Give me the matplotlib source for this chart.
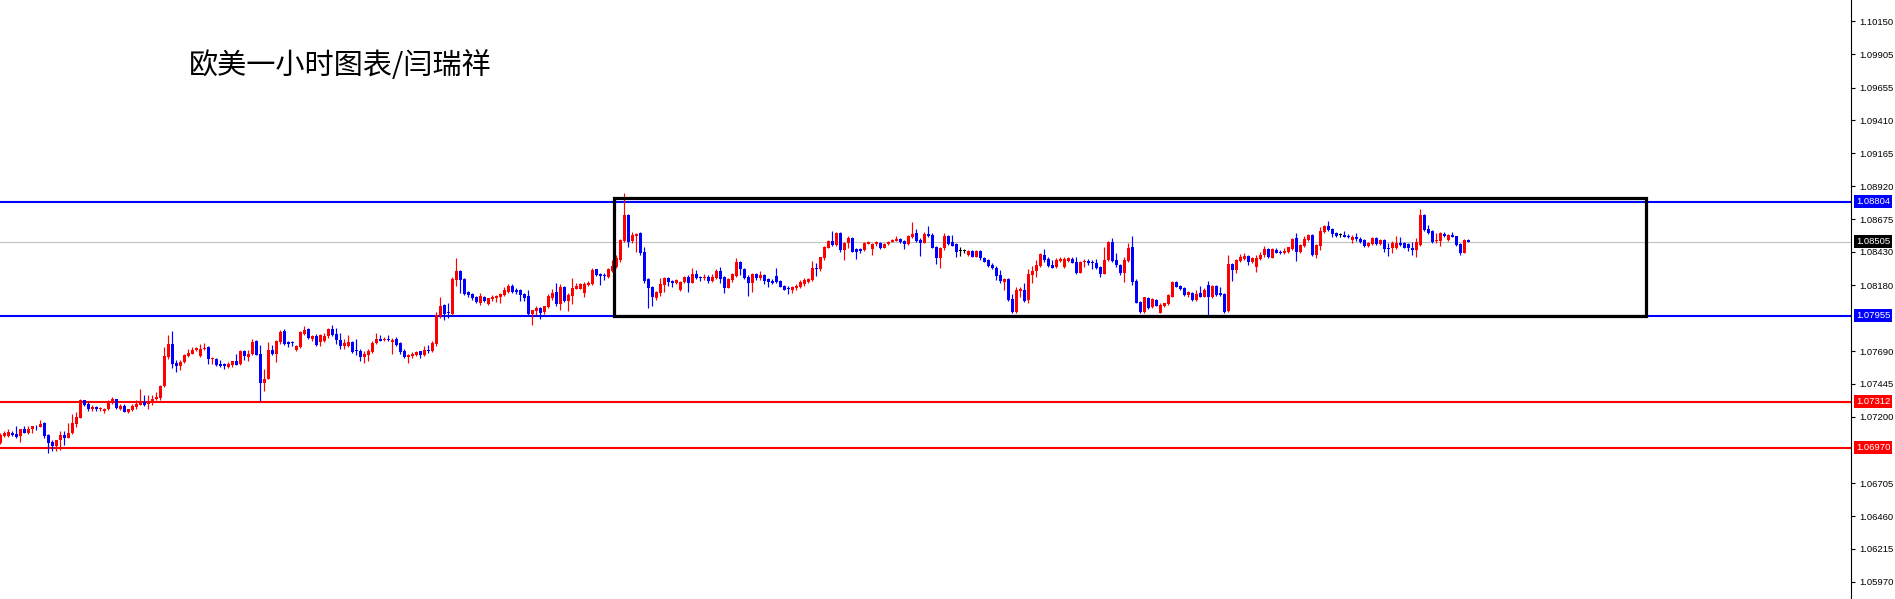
import matplotlib
matplotlib.use("Agg")
import matplotlib.pyplot as plt
from matplotlib.patches import Rectangle
import numpy as np

plt.rcParams["font.family"] = ["Noto Sans CJK SC", "DejaVu Sans"]

TITLE = "欧美一小时图表/闫瑞祥"

# EURUSD H1 candles, prices in points (1 point = 0.00001)
opens = [
    107002, 107056, 107059, 107083, 107071, 107059, 107106, 107081, 107108, 107131,
    107126, 107155, 107064, 107014, 106982, 107026, 107064, 107044, 107076, 107150,
    107195, 107324, 107294, 107255, 107274, 107255, 107242, 107255, 107312, 107331,
    107262, 107279, 107237, 107250, 107274, 107292, 107309, 107294, 107312, 107331,
    107344, 107428, 107646, 107746, 107602, 107582, 107609, 107654, 107671, 107696,
    107654, 107703, 107721, 107629, 107634, 107592, 107592, 107572, 107589, 107614,
    107592, 107691, 107646, 107666, 107763, 107666, 107453, 107485, 107696, 107671,
    107758, 107837, 107758, 107751, 107696, 107721, 107820, 107857, 107783, 107800,
    107755, 107763, 107805, 107855, 107820, 107775, 107730, 107730, 107758, 107693,
    107693, 107650, 107658, 107683, 107750, 107783, 107775, 107783, 107755, 107783,
    107750, 107693, 107643, 107655, 107663, 107688, 107663, 107700, 107688, 107745,
    107955, 108033, 107975, 107970, 108220, 108288, 108230, 108130, 108113, 108095,
    108050, 108095, 108038, 108080, 108088, 108095, 108105, 108133, 108175, 108145,
    108145, 108113, 108100, 107970, 107988, 108013, 107980, 108020, 108088, 108130,
    108038, 108168, 108063, 108100, 108155, 108155, 108120, 108180, 108188, 108300,
    108263, 108255, 108245, 108290, 108320, 108370, 108511, 108705, 108511, 108551,
    108568, 108432, 108228, 108171, 108085, 108122, 108184, 108233, 108214, 108201,
    108147, 108204, 108241, 108201, 108265, 108246, 108236, 108246, 108214, 108233,
    108290, 108246, 108164, 108221, 108253, 108357, 108303, 108246, 108196, 108266,
    108233, 108258, 108226, 108216, 108251, 108216, 108176, 108154, 108147, 108159,
    108171, 108189, 108209, 108221, 108308, 108300, 108382, 108462, 108511, 108481,
    108568, 108444, 108494, 108531, 108449, 108449, 108444, 108489, 108452, 108486,
    108499, 108462, 108486, 108506, 108514, 108526, 108514, 108489, 108538, 108568,
    108519, 108499, 108563, 108556, 108469, 108387, 108457, 108551, 108501, 108486,
    108439, 108437, 108407, 108437, 108395, 108437, 108382, 108370, 108333, 108313,
    108258, 108204, 108228, 108080, 107980, 108142, 108147, 108072, 108258, 108288,
    108328, 108407, 108377, 108333, 108315, 108365, 108315, 108362, 108377, 108357,
    108276, 108352, 108365, 108357, 108350, 108315, 108266, 108370, 108501, 108370,
    108333, 108276, 108365, 108469, 108216, 108060, 107980, 108085, 108018, 108072,
    107978, 108028, 108042, 108097, 108209, 108176, 108159, 108109, 108122, 108072,
    108122, 108092, 108184, 108092, 108176, 108127, 108117, 107990, 108340, 108295,
    108365, 108377, 108400, 108357, 108320, 108377, 108407, 108452, 108387, 108444,
    108432, 108424, 108427, 108452, 108536, 108432, 108476, 108519, 108556, 108407,
    108476, 108581, 108623, 108598, 108568, 108556, 108556, 108551, 108519, 108543,
    108529, 108519, 108476, 108486, 108536, 108486, 108519, 108462, 108457, 108457,
    108499, 108494, 108489, 108462, 108444, 108481, 108705, 108600, 108588, 108514,
    108514, 108563, 108519, 108556, 108548, 108489, 108424, 108519,
]
highs = [
    107076, 107093, 107106, 107093, 107131, 107113, 107131, 107131, 107134, 107138,
    107175, 107163, 107071, 107026, 107031, 107093, 107096, 107155, 107220, 107237,
    107331, 107329, 107312, 107287, 107279, 107274, 107267, 107324, 107349, 107336,
    107299, 107294, 107262, 107299, 107324, 107406, 107361, 107361, 107361, 107386,
    107436, 107721, 107813, 107837, 107622, 107622, 107666, 107708, 107721, 107721,
    107746, 107753, 107728, 107646, 107639, 107622, 107604, 107607, 107616, 107671,
    107701, 107701, 107696, 107783, 107770, 107738, 107555, 107756, 107733, 107770,
    107845, 107857, 107763, 107768, 107733, 107840, 107875, 107865, 107813, 107820,
    107818, 107825, 107863, 107888, 107863, 107825, 107780, 107810, 107763, 107783,
    107705, 107688, 107705, 107763, 107825, 107808, 107793, 107813, 107788, 107793,
    107755, 107705, 107670, 107680, 107688, 107693, 107725, 107738, 107768, 107983,
    108095, 108043, 108050, 108243, 108383, 108295, 108238, 108138, 108125, 108100,
    108120, 108100, 108088, 108105, 108108, 108125, 108168, 108188, 108188, 108158,
    108155, 108120, 108145, 108000, 108030, 108020, 108030, 108113, 108155, 108195,
    108188, 108175, 108125, 108238, 108200, 108200, 108205, 108213, 108313, 108305,
    108270, 108275, 108308, 108370, 108407, 108524, 108871, 108710, 108581, 108568,
    108581, 108469, 108238, 108176, 108139, 108238, 108241, 108241, 108221, 108228,
    108214, 108251, 108258, 108308, 108295, 108253, 108263, 108258, 108266, 108300,
    108315, 108251, 108233, 108271, 108382, 108362, 108308, 108258, 108276, 108276,
    108290, 108266, 108233, 108226, 108308, 108221, 108185, 108176, 108176, 108191,
    108221, 108233, 108238, 108362, 108345, 108395, 108474, 108519, 108586, 108581,
    108576, 108506, 108548, 108538, 108457, 108462, 108501, 108511, 108494, 108514,
    108506, 108499, 108514, 108526, 108548, 108536, 108519, 108556, 108650, 108600,
    108531, 108576, 108623, 108573, 108476, 108469, 108568, 108556, 108556, 108494,
    108464, 108452, 108444, 108444, 108444, 108444, 108390, 108375, 108345, 108325,
    108295, 108233, 108233, 108117, 108166, 108166, 108196, 108300, 108325, 108370,
    108419, 108452, 108395, 108370, 108382, 108390, 108390, 108395, 108395, 108390,
    108365, 108375, 108375, 108370, 108375, 108325, 108469, 108511, 108536, 108424,
    108340, 108395, 108499, 108548, 108226, 108067, 108097, 108092, 108085, 108080,
    108052, 108052, 108117, 108216, 108214, 108184, 108166, 108142, 108129, 108147,
    108176, 108159, 108216, 108184, 108184, 108166, 108122, 108407, 108350, 108377,
    108414, 108419, 108407, 108390, 108407, 108432, 108474, 108457, 108457, 108457,
    108444, 108457, 108469, 108531, 108573, 108489, 108548, 108561, 108563, 108489,
    108618, 108630, 108660, 108605, 108581, 108573, 108588, 108563, 108556, 108568,
    108538, 108524, 108506, 108543, 108538, 108526, 108526, 108494, 108511, 108548,
    108543, 108506, 108499, 108506, 108536, 108749, 108712, 108630, 108593, 108568,
    108576, 108576, 108563, 108581, 108551, 108499, 108524, 108524,
]
lows = [
    106997, 107051, 107051, 107056, 107044, 107014, 107076, 107071, 107076, 107101,
    107121, 107039, 106932, 106947, 106947, 106952, 106989, 107040, 107071, 107126,
    107188, 107279, 107245, 107245, 107245, 107242, 107230, 107250, 107299, 107262,
    107250, 107235, 107230, 107242, 107262, 107287, 107284, 107257, 107292, 107324,
    107324, 107423, 107634, 107567, 107535, 107552, 107602, 107646, 107666, 107691,
    107646, 107696, 107597, 107592, 107579, 107572, 107560, 107567, 107572, 107584,
    107584, 107622, 107614, 107659, 107659, 107319, 107393, 107480, 107659, 107609,
    107746, 107733, 107721, 107728, 107691, 107716, 107813, 107783, 107765, 107728,
    107730, 107755, 107788, 107800, 107745, 107708, 107705, 107720, 107675, 107663,
    107618, 107605, 107613, 107675, 107743, 107763, 107763, 107763, 107670, 107730,
    107670, 107638, 107605, 107638, 107655, 107638, 107655, 107675, 107680, 107725,
    107938, 107925, 107938, 107963, 108175, 108120, 108108, 108095, 108075, 108050,
    108033, 108055, 108033, 108063, 108055, 108050, 108100, 108125, 108120, 108113,
    108063, 108063, 107963, 107888, 107963, 107930, 107970, 108013, 108075, 108030,
    107995, 108055, 107988, 108038, 108150, 108150, 108095, 108175, 108180, 108250,
    108183, 108220, 108238, 108283, 108308, 108357, 108506, 108469, 108494, 108432,
    108407, 108196, 108015, 108023, 108072, 108102, 108134, 108176, 108171, 108191,
    108142, 108196, 108134, 108196, 108226, 108214, 108221, 108201, 108209, 108228,
    108201, 108127, 108159, 108209, 108246, 108258, 108226, 108104, 108134, 108221,
    108221, 108191, 108166, 108189, 108196, 108166, 108144, 108114, 108127, 108147,
    108164, 108176, 108201, 108216, 108253, 108290, 108370, 108457, 108474, 108476,
    108432, 108370, 108457, 108427, 108377, 108424, 108439, 108486, 108407, 108476,
    108452, 108457, 108481, 108501, 108511, 108494, 108452, 108481, 108531, 108506,
    108400, 108494, 108543, 108457, 108340, 108313, 108444, 108481, 108474, 108395,
    108400, 108424, 108400, 108390, 108390, 108370, 108352, 108315, 108300, 108221,
    108196, 108147, 108067, 107973, 107973, 108092, 108055, 108052, 108201, 108246,
    108320, 108357, 108315, 108308, 108308, 108352, 108308, 108357, 108345, 108266,
    108271, 108315, 108333, 108300, 108300, 108246, 108263, 108362, 108357, 108320,
    108258, 108209, 108357, 108184, 108047, 107973, 107973, 108005, 108010, 108023,
    107973, 108018, 108035, 108092, 108166, 108147, 108104, 108097, 108067, 108067,
    108092, 108092, 107961, 108085, 108102, 108104, 107973, 107985, 108216, 108276,
    108357, 108370, 108333, 108350, 108283, 108370, 108395, 108382, 108382, 108419,
    108414, 108414, 108419, 108444, 108365, 108419, 108469, 108511, 108400, 108387,
    108444, 108573, 108586, 108538, 108538, 108538, 108538, 108536, 108499, 108514,
    108494, 108469, 108469, 108481, 108481, 108481, 108432, 108400, 108419, 108452,
    108476, 108457, 108439, 108407, 108395, 108476, 108588, 108563, 108499, 108499,
    108476, 108538, 108514, 108538, 108476, 108407, 108419, 108500,
]
closes = [
    107064, 107076, 107088, 107064, 107051, 107106, 107081, 107113, 107131, 107129,
    107145, 107056, 107007, 106982, 107026, 107064, 107044, 107081, 107155, 107200,
    107324, 107292, 107255, 107274, 107255, 107269, 107260, 107312, 107331, 107269,
    107279, 107237, 107255, 107279, 107299, 107319, 107292, 107319, 107331, 107349,
    107431, 107651, 107746, 107597, 107577, 107612, 107659, 107676, 107701, 107716,
    107708, 107711, 107629, 107641, 107584, 107582, 107577, 107597, 107614, 107589,
    107691, 107651, 107671, 107758, 107664, 107453, 107480, 107701, 107666, 107763,
    107832, 107746, 107741, 107749, 107726, 107832, 107850, 107788, 107800, 107738,
    107808, 107805, 107855, 107813, 107770, 107730, 107750, 107758, 107683, 107691,
    107650, 107668, 107693, 107750, 107783, 107768, 107780, 107770, 107775, 107738,
    107680, 107650, 107663, 107670, 107680, 107663, 107700, 107688, 107750, 107963,
    108030, 107970, 107973, 108225, 108288, 108220, 108113, 108110, 108088, 108055,
    108100, 108063, 108083, 108095, 108100, 108118, 108145, 108175, 108130, 108130,
    108108, 108088, 107970, 107995, 108013, 107975, 108025, 108100, 108120, 108038,
    108168, 108063, 108105, 108158, 108175, 108193, 108188, 108200, 108295, 108255,
    108250, 108253, 108300, 108325, 108382, 108519, 108705, 108506, 108556, 108563,
    108419, 108216, 108164, 108090, 108129, 108191, 108233, 108209, 108201, 108221,
    108209, 108241, 108201, 108263, 108233, 108236, 108246, 108214, 108246, 108290,
    108228, 108164, 108226, 108263, 108357, 108300, 108238, 108196, 108266, 108233,
    108258, 108214, 108209, 108196, 108209, 108171, 108147, 108152, 108166, 108176,
    108209, 108221, 108228, 108313, 108306, 108390, 108469, 108511, 108481, 108568,
    108444, 108499, 108531, 108432, 108432, 108439, 108494, 108501, 108489, 108501,
    108457, 108489, 108506, 108519, 108526, 108506, 108489, 108548, 108563, 108511,
    108499, 108563, 108551, 108462, 108387, 108457, 108551, 108489, 108476, 108432,
    108439, 108437, 108439, 108395, 108437, 108382, 108357, 108325, 108308, 108251,
    108216, 108228, 108072, 107980, 108147, 108152, 108067, 108266, 108290, 108333,
    108414, 108370, 108325, 108313, 108370, 108375, 108377, 108382, 108350, 108276,
    108357, 108365, 108350, 108345, 108308, 108266, 108370, 108501, 108365, 108333,
    108276, 108370, 108462, 108209, 108052, 107980, 108092, 108010, 108077, 108028,
    108035, 108047, 108109, 108209, 108171, 108152, 108109, 108134, 108072, 108117,
    108097, 108147, 108092, 108179, 108109, 108109, 107985, 108340, 108295, 108370,
    108390, 108400, 108357, 108382, 108382, 108407, 108452, 108390, 108449, 108424,
    108424, 108439, 108464, 108526, 108432, 108481, 108526, 108556, 108407, 108481,
    108588, 108623, 108593, 108561, 108548, 108556, 108543, 108543, 108543, 108524,
    108506, 108476, 108494, 108536, 108489, 108519, 108452, 108449, 108494, 108499,
    108481, 108462, 108457, 108444, 108501, 108705, 108593, 108568, 108506, 108519,
    108568, 108548, 108556, 108543, 108481, 108424, 108519, 108505,
]

price_ticks = [1.10150, 1.09905, 1.09655, 1.09410, 1.09165, 1.08920, 1.08675, 1.08430,
               1.08180, 1.07690, 1.07445, 1.07200, 1.06705, 1.06460, 1.06215, 1.05970]
blue_levels = [1.08804, 1.07955]
red_levels = [1.07312, 1.06970]
bid_price = 1.08505

# consolidation box drawn on the chart (bar index / price)
box_first_bar, box_last_bar = 153.5, 411.5
box_top, box_bottom = 1.08830, 1.07955

UP, DOWN, DOJI = "#ff0000", "#0000ff", "#000000"

o = np.array(opens) / 1e5
h = np.array(highs) / 1e5
l = np.array(lows) / 1e5
c = np.array(closes) / 1e5
h = np.maximum(h, np.maximum(o, c))
l = np.minimum(l, np.minimum(o, c))
idx = np.arange(len(o))
cols = np.where(c > o, UP, np.where(c < o, DOWN, DOJI))

W, H = 1895, 599
fig = plt.figure(figsize=(W / 100, H / 100), dpi=100)
ax = fig.add_axes([0, 0, 1851 / W, 1])
ax.set_xlim(-0.1, 1851 / 4 - 0.1)
ax.set_ylim(1.05842, 1.10308)

# horizontal levels
for lv in blue_levels:
    ax.axhline(lv, color="#0000ff", lw=1.5, zorder=1)
for lv in red_levels:
    ax.axhline(lv, color="#ff0000", lw=1.5, zorder=1)
ax.axhline(bid_price, color="#c0c0c0", lw=0.8, zorder=1)

# candles
ax.vlines(idx, l, h, colors=cols, lw=0.85, zorder=3)
bottom = np.minimum(o, c)
height = np.maximum(np.abs(c - o), 0.00006)
ax.bar(idx, height, bottom=bottom, width=0.78, color=cols, linewidth=0, zorder=4)

ax.add_patch(Rectangle((box_first_bar, box_bottom), box_last_bar - box_first_bar,
                       box_top - box_bottom, fill=False, ec="black", lw=2.3, zorder=5))

# axis on the right
for s in ("left", "top", "bottom"):
    ax.spines[s].set_visible(False)
ax.spines["right"].set_color("black")
ax.spines["right"].set_linewidth(0.8)
ax.set_xticks([])
ax.yaxis.tick_right()
ax.set_yticks(price_ticks)
ax.set_yticklabels([f"{t:.5f}" for t in price_ticks], fontfamily="Liberation Sans")
ax.tick_params(axis="y", length=3, width=0.8, pad=3, labelsize=6.8, colors="black")

tr = ax.get_yaxis_transform()
for lv, fc in [(blue_levels[0], "#0000ff"), (blue_levels[1], "#0000ff"),
               (red_levels[0], "#ff0000"), (red_levels[1], "#ff0000"),
               (bid_price, "#000000")]:
    ax.text(1 + 5 / 1851, lv, f"{lv:.5f}", transform=tr, ha="left", va="center",
            fontsize=6.8, color="white", fontfamily="Liberation Sans", zorder=10,
            bbox=dict(boxstyle="square,pad=0.2", fc=fc, ec="none"))

fig.text(189 / W, 1 - 66 / H, TITLE, fontsize=21, ha="left", va="center", color="black")

fig.savefig("out.png", dpi=100)
